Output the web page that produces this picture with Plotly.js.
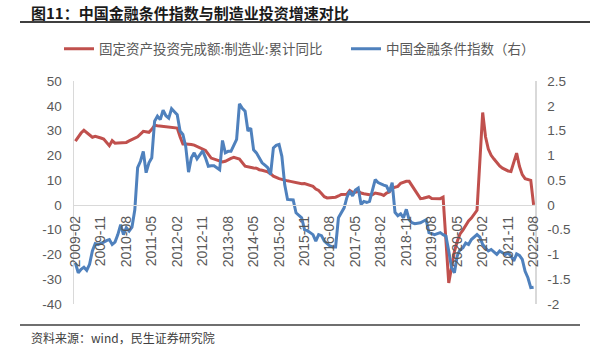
<!DOCTYPE html>
<html><head><meta charset="utf-8">
<script src="https://cdn.plot.ly/plotly-3.0.1.min.js"></script>
<style>html,body{margin:0;padding:0;background:#fff}#chart{width:597px;height:353px}</style>
</head><body><div id="chart"></div><script>
// Monthly categories from 2009-02 to 2022-08
const startYear = 2009, startMonth = 2, monthCount = 163;
const months = [];
for (let i = 0; i < monthCount; i++) {
  const t = startMonth - 1 + i;
  months.push((startYear + Math.floor(t / 12)) + '-' + String(t % 12 + 1).padStart(2, '0'));
}
const tickLabels = ['2009-02','2009-11','2010-08','2011-05','2012-02','2012-11','2013-08','2014-05','2015-02','2015-11','2016-08','2017-05','2018-02','2018-11','2019-08','2020-05','2021-02','2021-11','2022-08'];

const seriesNames = ['固定资产投资完成额:制造业:累计同比', '中国金融条件指数（右）'];

// Left axis: manufacturing FAI cumulative YoY (%)
const mfgFAI = [
  25.7, 27.5, 29.0, 30.1, 29.2, 28.0, 27.3, 27.7, 27.5, 27.0, 26.6,
  null, 23.9, 25.9, 24.9, 25.0, 25.1, 25.3, 25.2, 25.8, 26.3, 26.9, 27.5,
  null, 29.7, 29.5, 29.3, 30.5, 32.1, 31.9, 31.8, 31.6, 31.4, 31.4, 31.4,
  null, 31.0, 27.5, 24.6, 24.6, 24.6, 24.4, 24.1, 23.6, 23.0, 22.5, 22.0,
  null, 18.9, 18.5, 18.3, 18.0, 17.3, 17.6, 18.3, 18.8, 19.2, 19.0, 18.5,
  null, 15.6, 15.3, 15.2, 14.9, 14.8, 14.2, 14.0, 13.8, 13.3, 12.6, 11.6,
  null, 10.6, 10.2, 9.9, 9.7, 9.5, 9.2, 8.9, 8.5, 8.5, 8.6, 8.3,
  null, 7.5, 6.4, 5.8, 4.6, 3.3, 2.8, 2.8, 3.1, 3.1, 3.6, 4.2,
  null, 4.3, 5.8, 5.1, 5.1, 5.5, 4.8, 4.5, 4.2, 4.1, 4.1, 4.8,
  null, 4.3, 3.8, 4.8, 5.2, 6.8, 7.3, 7.5, 8.7, 9.1, 9.5, 9.5,
  null, 5.9, 4.6, 2.5, 2.7, 3.0, 3.3, 2.6, 2.5, 2.6, 2.5, 3.1,
  null, -31.5, -25.2, -18.8, -14.8, -11.7, -10.2, -8.1, -6.5, -5.3, -3.5, -2.2,
  null, 37.3, 27.5, 22.5, 20.0, 18.5, 17.0, 15.7, 14.8, 14.2, 13.7, 13.5,
  null, 20.9, 15.6, 12.2, 10.6, 10.4, 9.9, 0
];

// Right axis: China financial conditions index
const fciIndex = [
  -1.17, -1.37, -1.30, -1.26, -1.32, -1.20, -0.93, -0.78, -0.80, -0.78, -0.75,
  -0.72, -0.70, -0.80, -0.75, -0.60, -0.40, -0.60, -0.46, -0.53, -0.45, -0.10, 0.75,
  0.88, 1.08, 0.65, 0.85, 0.95, 1.69, 1.79, 1.72, 1.91, 1.80, 1.75, 1.94,
  1.88, 1.82, 1.49, 1.42, 1.18, 0.66, 0.95, 1.05, 0.93, 1.00, 1.09, 0.95,
  0.78, 0.79, 0.79, 0.75, 0.71, 1.30, 1.05, 1.08, 1.08, 1.20, 1.32, 2.04,
  1.95, 1.89, 1.49, 1.55, 1.11, 1.05, 0.95, 0.85, 0.80, 0.75, 0.61, 1.15,
  1.20, 1.22, 0.98, 0.41, 0.11, 0.10, 0.10, -0.16, -0.22, -0.26, -0.50, -0.52,
  -0.56, -0.60, -0.73, -0.60, -0.62, -0.73, -0.78, -0.83, -0.85, -0.85, -0.26, -0.15,
  -0.06, 0.15, 0.28, 0.18, 0.30, 0.34, 0.01, 0.07, 0.05, 0.07, 0.30, 0.51,
  0.45, 0.42, 0.40, 0.38, 0.26, 0.45, -0.15, -0.22, -0.18, -0.26, -0.09, -0.30,
  -0.36, -0.38, -0.37, -0.36, -0.33, -0.30, -0.56, -0.58, -0.60, -0.58, -0.56, -0.60,
  -0.63, -0.93, -1.27, -1.37, -1.03, -0.90, -0.87, -0.77, -0.80, -0.70, -0.65, -0.60,
  -0.65, -0.80, -0.87, -0.93, -0.90, -0.95, -1.00, -0.93, -0.97, -1.00, -0.97, -1.03,
  -1.13, -0.99, -1.02, -1.10, -1.34, -1.47, -1.67, -1.66
];

const leftTicks = [50, 40, 30, 20, 10, 0, -10, -20, -30, -40];
const rightTicks = [2.5, 2, 1.5, 1, 0.5, 0, -0.5, -1, -1.5, -2];

const titleText = '图11：中国金融条件指数与制造业投资增速对比';
const sourceText = '资料来源：wind，民生证券研究院';

const cjk = '"Noto Sans CJK SC", "Noto Sans", sans-serif';
const latin = '"Liberation Sans", Arial, sans-serif';
const tickColor = '#595959';

const traces = [
  {x: months, y: mfgFAI, name: seriesNames[0], type: 'scatter', mode: 'lines',
   connectgaps: true, line: {color: '#C0504D', width: 3}, yaxis: 'y', legend: 'legend'},
  {x: months, y: fciIndex, name: seriesNames[1], type: 'scatter', mode: 'lines',
   line: {color: '#4F81BD', width: 3}, yaxis: 'y2', legend: 'legend2'}
];

const legendFont = {family: cjk, size: 13.5, color: tickColor};
const legendY = (304 - 49) / 223;

const layout = {
  width: 597, height: 353,
  margin: {l: 74, r: 62, t: 81, b: 49},
  paper_bgcolor: '#fff', plot_bgcolor: '#fff',
  showlegend: true,
  legend: {orientation: 'h', x: (59 - 74) / 461, xanchor: 'left', y: legendY, yanchor: 'middle',
           font: legendFont, bgcolor: 'rgba(0,0,0,0)'},
  legend2: {orientation: 'h', x: (346 - 74) / 461, xanchor: 'left', y: legendY, yanchor: 'middle',
            font: legendFont, bgcolor: 'rgba(0,0,0,0)'},
  xaxis: {type: 'category', categoryorder: 'array', categoryarray: months,
          range: [-0.5, monthCount - 0.5],
          anchor: 'free', position: 40 / 90,
          tickmode: 'array', tickvals: tickLabels, ticktext: tickLabels,
          tickangle: -90, ticks: 'outside', ticklen: 4, tickcolor: 'rgba(0,0,0,0)',
          showline: true, linecolor: '#D9D9D9', linewidth: 1.5,
          showgrid: false, zeroline: false,
          tickfont: {family: latin, size: 14, color: tickColor}},
  yaxis: {range: [-40, 50], tickmode: 'array', tickvals: leftTicks, ticktext: leftTicks.map(String),
          showgrid: false, zeroline: false, showline: true, linecolor: '#D9D9D9', linewidth: 1.5,
          ticks: 'outside', ticklen: 8, tickcolor: 'rgba(0,0,0,0)',
          tickfont: {family: latin, size: 13.5, color: tickColor}},
  yaxis2: {range: [-2, 2.5], overlaying: 'y', side: 'right', anchor: 'x',
           tickmode: 'array', tickvals: rightTicks, ticktext: rightTicks.map(String),
           showgrid: false, zeroline: false, showline: true, linecolor: '#D9D9D9', linewidth: 1.5,
           ticks: 'outside', ticklen: 8, tickcolor: 'rgba(0,0,0,0)',
           tickfont: {family: latin, size: 13.5, color: tickColor}},
  shapes: [
    {type: 'line', xref: 'paper', yref: 'paper', x0: (20 - 74) / 461, x1: (590 - 74) / 461,
     y0: (304 - 22) / 223, y1: (304 - 22) / 223, line: {color: '#3f3f3f', width: 2}},
    {type: 'line', xref: 'paper', yref: 'paper', x0: (20 - 74) / 461, x1: (580 - 74) / 461,
     y0: (304 - 325) / 223, y1: (304 - 325) / 223, line: {color: '#3f3f3f', width: 1.5}}
  ],
  annotations: [
    {text: '<b>' + titleText + '</b>', xref: 'paper', yref: 'paper', x: (29 - 74) / 461, y: (304 - 12) / 223,
     xanchor: 'left', yanchor: 'middle', showarrow: false,
     font: {family: cjk, size: 15, color: '#1a1a1a'}},
    {text: sourceText, xref: 'paper', yref: 'paper', x: (29 - 74) / 461, y: (304 - 337) / 223,
     xanchor: 'left', yanchor: 'middle', showarrow: false,
     font: {family: cjk, size: 12, color: '#404040'}}
  ]
};

Plotly.newPlot('chart', traces, layout, {staticPlot: true, displayModeBar: false});
</script></body></html>
